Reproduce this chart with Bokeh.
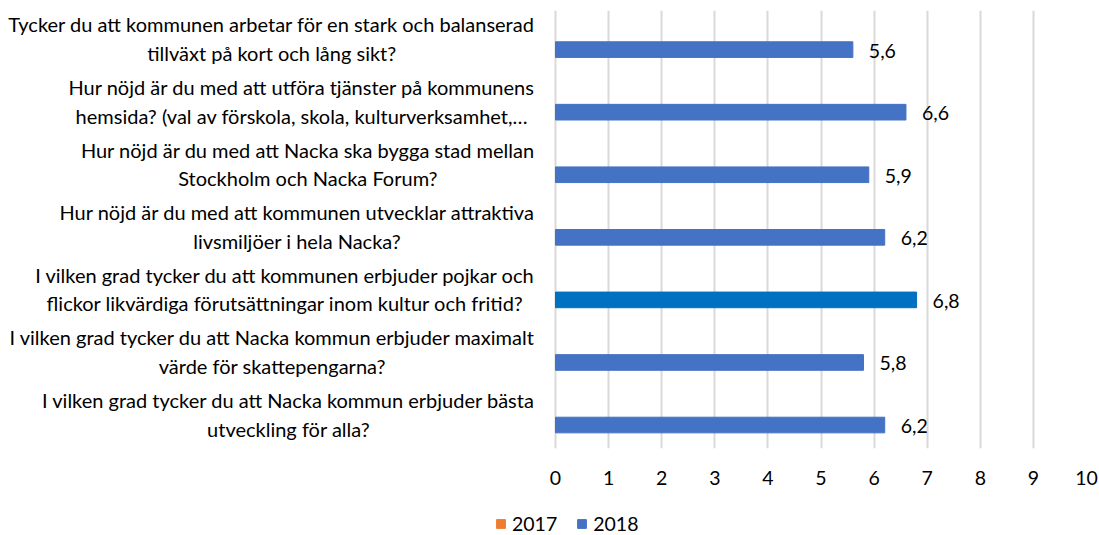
import glob
import subprocess

from bokeh.plotting import figure
from bokeh.layouts import column
from bokeh.models import (FactorRange, Range1d, ColumnDataSource, Legend,
                          LegendItem, FixedTicker)
from bokeh.transform import dodge
from bokeh.core.properties import value
from bokeh.embed import file_html
from bokeh.resources import INLINE

# ---------------- data ----------------
questions = [
    "Tycker du att kommunen arbetar för en stark och balanserad\ntillväxt på kort och lång sikt?",
    "Hur nöjd är du med att utföra tjänster på kommunens\nhemsida? (val av förskola, skola, kulturverksamhet,…",
    "Hur nöjd är du med att Nacka ska bygga stad mellan\nStockholm och Nacka Forum?",
    "Hur nöjd är du med att kommunen utvecklar attraktiva\nlivsmiljöer i hela Nacka?",
    "I vilken grad tycker du att kommunen erbjuder pojkar och\nflickor likvärdiga förutsättningar inom kultur och fritid?",
    "I vilken grad tycker du att Nacka kommun erbjuder maximalt\nvärde för skattepengarna?",
    "I vilken grad tycker du att Nacka kommun erbjuder bästa\nutveckling för alla?",
]
values_2017 = [float("nan")] * 7          # the 2017 series has no visible bars
values_2018 = [5.6, 6.6, 5.9, 6.2, 6.8, 5.8, 6.2]
series = ["2017", "2018"]
x_ticks = [0, 1, 2, 3, 4, 5, 6, 7, 8, 9, 10]

# ---------------- style / layout ----------------
FONT = "Lato"
FONT_PX = 19.5          # ticks, value labels, legend
CAT_FONT_PX = 20        # category labels
FS = "%gpx" % FONT_PX
CAT_FS = "%gpx" % CAT_FONT_PX
C2017 = "#ED7D31"
C2018 = "#4472C4"
C_HIGHLIGHT = "#0070C0"
HIGHLIGHT_INDEX = 4
W, H = 1099, 535
MAIN_H = 505           # main chart height; the legend strip takes the rest
ZERO_PX = 555          # pixel position of value 0
FRAME_RIGHT = 1086     # pixel position of value 10
FRAME_TOP = 10
FRAME_BOTTOM = 448
LABEL_GAP = 21         # gap between category label block and the value axis


def _font_file(family):
    try:
        out = subprocess.run(["fc-match", "-f", "%{file}", family],
                             capture_output=True, text=True, timeout=10).stdout.strip()
        if out:
            return out
    except Exception:
        pass
    hits = glob.glob("/usr/share/fonts/**/%s-Regular.ttf" % family, recursive=True)
    return hits[0] if hits else None


def _measure(lines, px):
    try:
        from PIL import ImageFont
        f = ImageFont.truetype(_font_file(FONT), int(px * 10))
        return max(f.getlength(s) for s in lines) / 10.0
    except Exception:
        return max(0.48 * px * len(s) for s in lines)


label_xoff = [-(LABEL_GAP + _measure(q.split("\n"), CAT_FONT_PX) / 2.0) for q in questions]

colors_2018 = [C_HIGHLIGHT if i == HIGHLIGHT_INDEX else C2018 for i in range(len(questions))]
labels_2018 = [("%.1f" % v).replace(".", ",") for v in values_2018]

src18 = ColumnDataSource(dict(q=questions, v=values_2018, color=colors_2018, lab=labels_2018))
src17 = ColumnDataSource(dict(q=questions, v=values_2017))
srclab = ColumnDataSource(dict(q=questions, zero=[0] * len(questions), xoff=label_xoff))

x_max = x_ticks[-1]
ppu = (FRAME_RIGHT - ZERO_PX) / (x_max - x_ticks[0])
x_start = x_ticks[0] - ZERO_PX / ppu

p = figure(width=W, height=MAIN_H, output_backend="svg", toolbar_location=None,
           y_range=FactorRange(*reversed(questions)), x_range=Range1d(x_start, x_max),
           min_border_left=0, min_border_right=W - FRAME_RIGHT,
           min_border_top=FRAME_TOP, min_border_bottom=MAIN_H - FRAME_BOTTOM)

p.hbar(y=dodge("q", 0.125, range=p.y_range), left=0, right="v", height=0.25,
       color=C2017, source=src17)
p.hbar(y=dodge("q", -0.125, range=p.y_range), left=0, right="v", height=0.25,
       fill_color="color", line_color="color", source=src18)
p.text(x="v", y=dodge("q", -0.125, range=p.y_range), text="lab", source=src18,
       x_offset=16, y_offset=1, text_align="left", text_baseline="middle",
       text_font=value(FONT), text_font_size=FS, text_color="#000000")

# category labels (lines centred on each other, block right-aligned at the axis)
p.text(x="zero", y="q", text="q", source=srclab, x_offset="xoff", y_offset=-3,
       text_align="center", text_baseline="middle", text_line_height=1.2,
       text_font=value(FONT), text_font_size=CAT_FS, text_color="#000000")

# axes
p.yaxis.visible = False
p.xaxis.ticker = FixedTicker(ticks=x_ticks)
ax = p.xaxis[0]
ax.axis_line_color = None
ax.major_tick_line_color = None
ax.minor_tick_line_color = None
ax.major_tick_out = 0
ax.major_tick_in = 0
ax.major_label_text_font = FONT
ax.major_label_text_font_size = FS
ax.major_label_text_color = "#000000"
ax.major_label_standoff = 22

p.ygrid.grid_line_color = None
p.xgrid.grid_line_color = "#D9D9D9"
p.xgrid.grid_line_width = 2
p.outline_line_color = None

# ---------------- legend strip ----------------
LEG_H = H - MAIN_H
pl = figure(width=W, height=LEG_H, output_backend="svg", toolbar_location=None,
            x_range=Range1d(x_start, x_max), y_range=FactorRange(*reversed(questions)),
            min_border_left=0, min_border_right=0, min_border_top=0, min_border_bottom=0)
pl.axis.visible = False
pl.grid.grid_line_color = None
pl.outline_line_color = None
# legend proxies: same series, not drawn in the strip itself
sw17 = pl.hbar(y="q", left=0, right="v", height=0.25, color=C2017, source=src17, visible=False)
sw18 = pl.hbar(y="q", left=0, right="v", height=0.25, fill_color="color",
               line_color="color", source=src18, visible=False)
legend = Legend(items=[LegendItem(label=series[0], renderers=[sw17], index=0),
                       LegendItem(label=series[1], renderers=[sw18], index=0)],
                orientation="horizontal", location=(495, 0),
                glyph_width=11, glyph_height=11, label_standoff=6, spacing=19,
                padding=0, margin=0, border_line_color=None, background_fill_alpha=0,
                label_text_font=FONT, label_text_font_size=FS, label_height=20,
                label_text_color="#000000", inactive_fill_alpha=0)
pl.add_layout(legend, "center")

layout = column(p, pl, spacing=0)
open("out.html", "w").write(file_html(layout, INLINE))
